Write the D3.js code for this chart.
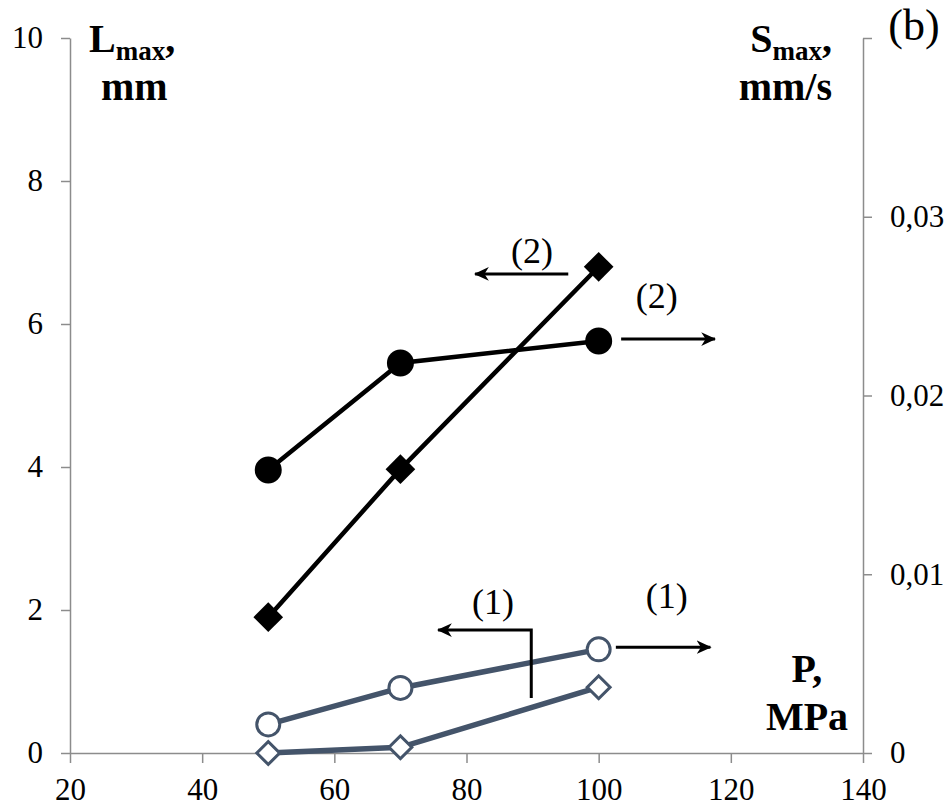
<!DOCTYPE html>
<html>
<head>
<meta charset="utf-8">
<script src="https://cdn.jsdelivr.net/npm/d3@7"></script>
<style>
  body { margin: 0; background: #fff; }
  svg { display: block; font-family: "Liberation Serif", "Times New Roman", serif; }
  .axis path, .axis line { stroke: #8c8c8c; stroke-width: 1.5; }
  .title { font-weight: bold; font-size: 40px; }
</style>
</head>
<body>
<div id="wrapper"></div>
<script>
// pressure, MPa
const pressure = [50, 70, 100]
// (1) series - slate
const lmax1 = [0, 0.08, 0.92]
const smax1 = [0.0016, 0.00364, 0.0058]
// (2) series - black
const lmax2 = [1.9, 3.97, 6.8]
const smax2 = [0.01583, 0.02182, 0.02305]

const xTicks = [20, 40, 60, 80, 100, 120, 140]
const leftTicks = [0, 2, 4, 6, 8, 10]
const rightTicks = [0, 0.01, 0.02, 0.03, 0.04]

const serif = '"Liberation Serif", "Times New Roman", serif'

function drawChart() {
    let dimensions = {
        width: 951,
        height: 810,
        margin: { top: 38, right: 88, bottom: 57, left: 70 },
    }
    dimensions.boundedWidth = dimensions.width - dimensions.margin.left - dimensions.margin.right
    dimensions.boundedHeight = dimensions.height - dimensions.margin.top - dimensions.margin.bottom

    const wrapper = d3.select("#wrapper")
        .append("svg")
        .attr("width", dimensions.width)
        .attr("height", dimensions.height)

    const defs = wrapper.append("defs")
    defs.append("marker")
        .attr("id", "arrow")
        .attr("viewBox", "0 0 12 12")
        .attr("refX", 11)
        .attr("refY", 6)
        .attr("markerWidth", 5)
        .attr("markerHeight", 5)
        .attr("markerUnits", "strokeWidth")
        .attr("orient", "auto")
        .append("path")
        .attr("d", "M0,0.5 L12,6 L0,11.5 L3.5,6 Z")
        .attr("fill", "#000")

    const bounds = wrapper.append("g")
        .attr("transform", `translate(${dimensions.margin.left},${dimensions.margin.top})`)

    const xScale = d3.scaleLinear().domain([20, 140]).range([0, dimensions.boundedWidth])
    const yLeft = d3.scaleLinear().domain([0, 10]).range([dimensions.boundedHeight, 0])
    const yRight = d3.scaleLinear().domain([0, 0.04]).range([dimensions.boundedHeight, 0])

    // axes
    const styleAxis = g => {
        g.attr("font-family", serif).attr("font-size", 31)
        g.selectAll("text").style("font-family", serif).style("font-size", "31px").attr("fill", "#000")
    }

    bounds.append("g")
        .attr("class", "axis")
        .attr("transform", `translate(0,${dimensions.boundedHeight})`)
        .call(d3.axisBottom(xScale).tickValues(xTicks).tickSize(10).tickSizeOuter(0).tickPadding(15).tickFormat(d3.format("d")))
        .call(styleAxis)

    bounds.append("g")
        .attr("class", "axis")
        .call(d3.axisLeft(yLeft).tickValues(leftTicks).tickSize(9).tickSizeOuter(0).tickPadding(18).tickFormat(d3.format("d")))
        .call(styleAxis)

    const rightFormat = d => d === 0 ? "0" : d >= 0.04 ? "" : d.toFixed(2).replace(".", ",")
    bounds.append("g")
        .attr("class", "axis")
        .attr("transform", `translate(${dimensions.boundedWidth},0)`)
        .call(d3.axisRight(yRight).tickValues(rightTicks).tickSize(9).tickSizeOuter(0).tickPadding(18).tickFormat(rightFormat))
        .call(styleAxis)

    // lines
    const slate = "#44546a"
    const lineGen = (ys, scale) => d3.line()
        .x((d, i) => xScale(pressure[i]))
        .y(d => scale(d))(ys)

    const series = [
        { values: lmax1, scale: yLeft, color: slate, width: 5.5, shape: "diamond", filled: false },
        { values: smax1, scale: yRight, color: slate, width: 5.5, shape: "circle", filled: false },
        { values: lmax2, scale: yLeft, color: "#000", width: 4.5, shape: "diamond", filled: true },
        { values: smax2, scale: yRight, color: "#000", width: 4.5, shape: "circle", filled: true },
    ]

    series.forEach(s => {
        bounds.append("path")
            .attr("d", lineGen(s.values, s.scale))
            .attr("fill", "none")
            .attr("stroke", s.color)
            .attr("stroke-width", s.width)
    })

    series.forEach(s => {
        const g = bounds.append("g")
        const pts = g.selectAll("path").data(s.values).enter().append("path")
            .attr("transform", (d, i) => `translate(${xScale(pressure[i])},${s.scale(d)})${s.shape === "diamond" ? " rotate(45)" : ""}`)
        if (s.shape === "circle") {
            pts.attr("d", d3.symbol(d3.symbolCircle, s.filled ? 572 : 415)())
        } else {
            pts.attr("d", d3.symbol(d3.symbolSquare, s.filled ? 440 : 262)())
        }
        pts.attr("fill", s.filled ? s.color : "#fff")
            .attr("stroke", s.filled ? "none" : s.color)
            .attr("stroke-width", 3)
    })

    // annotations (x in MPa, y on left axis)
    const arrows = [
        [[95.4, 6.7], [81.3, 6.7]],
        [[103.4, 5.79], [117.6, 5.79]],
        [[89.8, 0.77], [89.8, 1.72], [75.7, 1.72]],
        [[102.6, 1.48], [116.9, 1.48]],
    ]
    const labels = [
        { text: "(2)", x: 89.9, y: 6.86 },
        { text: "(2)", x: 108.8, y: 6.23 },
        { text: "(1)", x: 84.0, y: 1.94 },
        { text: "(1)", x: 110.3, y: 2.03 },
    ]
    arrows.forEach(a => {
        bounds.append("path")
            .attr("d", d3.line().x(d => xScale(d[0])).y(d => yLeft(d[1]))(a))
            .attr("fill", "none")
            .attr("stroke", "#000")
            .attr("stroke-width", 3)
            .attr("marker-end", "url(#arrow)")
    })
    bounds.selectAll(".ann").data(labels).enter().append("text")
        .attr("class", "ann")
        .attr("x", d => xScale(d.x))
        .attr("y", d => yLeft(d.y))
        .attr("text-anchor", "middle")
        .style("font-size", "36px")
        .text(d => d.text)

    // axis titles
    const lTitle = wrapper.append("text").attr("class", "title").attr("x", 89).attr("y", 52)
    lTitle.append("tspan").text("L")
    lTitle.append("tspan").attr("dy", 8).style("font-size", "27px").text("max")
    lTitle.append("tspan").attr("dy", -8).text(",")
    wrapper.append("text").attr("class", "title").attr("x", 101).attr("y", 100).text("mm")

    const sTitle = wrapper.append("text").attr("class", "title").attr("x", 832).attr("y", 52).attr("text-anchor", "end")
    sTitle.append("tspan").text("S")
    sTitle.append("tspan").attr("dy", 8).style("font-size", "27px").text("max")
    sTitle.append("tspan").attr("dy", -8).text(",")
    wrapper.append("text").attr("class", "title").attr("x", 832).attr("y", 100).attr("text-anchor", "end").text("mm/s")

    wrapper.append("text").attr("class", "title").attr("x", 807).attr("y", 682).attr("text-anchor", "middle").text("P,")
    wrapper.append("text").attr("class", "title").attr("x", 807).attr("y", 730).attr("text-anchor", "middle").text("MPa")

    wrapper.append("text").attr("x", 914).attr("y", 40).attr("text-anchor", "middle")
        .style("font-size", "44px").text("(b)")
}

drawChart()
</script>
</body>
</html>
